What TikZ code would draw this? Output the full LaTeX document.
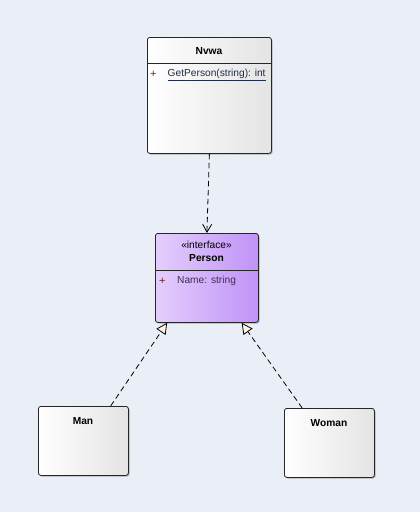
\documentclass[tikz,border=0pt]{standalone}
\usepackage{fontspec}
\setmainfont{Liberation Sans}
\usetikzlibrary{arrows.meta,shadows,calc}
\definecolor{bg}{HTML}{EAEEF6}
\definecolor{boxR}{HTML}{E4E4E4}
\definecolor{purL}{HTML}{E4CEFD}
\definecolor{purR}{HTML}{C092F7}
\definecolor{cream}{HTML}{FFF6E6}
\definecolor{plusc}{HTML}{7A1E1E}
\definecolor{attrc}{HTML}{3E2F55}
\definecolor{opc}{HTML}{1E2E48}
\tikzset{
  classbox/.style={draw=black!85, line width=0.8pt, rounded corners=2.5pt, anchor=north west,
    left color=white, right color=boxR, inner sep=0pt,
    drop shadow={shadow xshift=1.2pt, shadow yshift=-1.2pt, opacity=0.25, fill=black}},
  ifacebox/.style={classbox, left color=purL, right color=purR},
  title/.style={font=\fontsize{10.2}{12}\selectfont\bfseries, inner sep=0pt},
  stereo/.style={font=\fontsize{10.2}{12}\selectfont, inner sep=0pt},
  member/.style={font=\fontsize{10.2}{12}\selectfont, inner sep=0pt, anchor=west},
  plus/.style={font=\fontsize{11}{12}\selectfont, inner sep=0pt, anchor=west, text=plusc},
  sep/.style={line width=0.8pt, draw=black!85},
  dep/.style={dashed, dash pattern=on 5.5pt off 3.5pt, line width=0.8pt, -{Straight Barb[length=8pt,width=9pt,line width=0.8pt]}},
  real/.style={dashed, dash pattern=on 5.5pt off 3.5pt, line width=0.8pt, -{Triangle[open,fill=cream,length=11pt,width=11pt,line width=0.8pt]}}
}
\begin{document}
\begin{tikzpicture}[x=1pt,y=-1pt]
\fill[bg] (0,0) rectangle (420,512);
\useasboundingbox (0,0) rectangle (420,512);
% boxes
\node[classbox, minimum width=124pt, minimum height=116pt] (nvwa) at (147,37) {};
\node[ifacebox, minimum width=103pt, minimum height=89pt] (person) at (155,233) {};
\node[classbox, minimum width=90pt, minimum height=69pt] (man) at (38,406) {};
\node[classbox, minimum width=90pt, minimum height=69pt] (woman) at (284,408) {};
% Nvwa contents
\node[title] (nvwaT) at (209,51.5) {Nvwa};
\draw[sep] (147,63) -- (271,63);
\node[plus] (nvwaP) at (150,74) {+};
\node[member, text=opc] (nvwaOp) at (167.5,74) {GetPerson(string): int};
\draw[opc, line width=0.6pt] (nvwaOp.south west) ++(0,1.0) -- ($(nvwaOp.south east)+(0,1.0)$);
% Person contents
\node[stereo] (personS) at (206.5,245) {«interface»};
\node[title] (personT) at (206.5,258.5) {Person};
\draw[sep] (155,270) -- (258,270);
\node[plus] (personP) at (159,281) {+};
\node[member, text=attrc] (personA) at (177,281) {Name: string};
% Man / Woman
\node[title] (manT) at (83,421.5) {Man};
\node[title] (womanT) at (329,423.5) {Woman};
% connector end points
\coordinate (manTop) at ($(man.north west)!0.8!(man.north east)$);
\coordinate (womanTop) at ($(woman.north west)!0.2!(woman.north east)$);
\coordinate (personBL) at ($(person.south west)!0.117!(person.south east)$);
\coordinate (personBR) at ($(person.south west)!0.835!(person.south east)$);
% connectors
\draw[dep] (nvwa.south) -- (person.north);
\draw[real] (manTop) -- (personBL);
\draw[real] (womanTop) -- (personBR);
\end{tikzpicture}
\end{document}
